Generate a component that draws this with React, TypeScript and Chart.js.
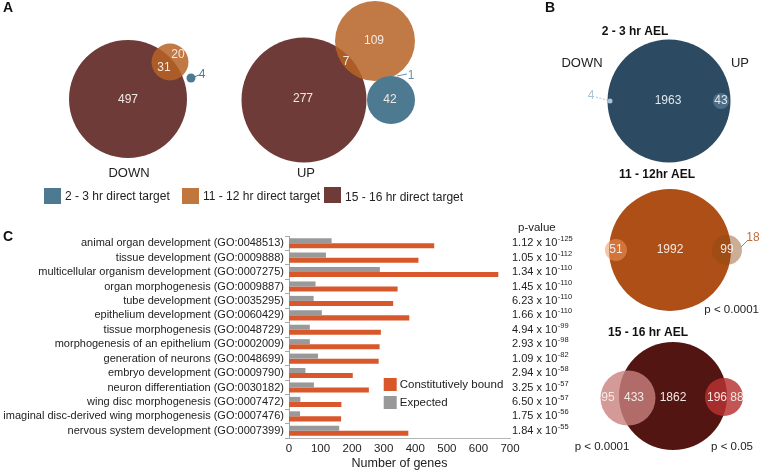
import React, { useEffect, useRef } from "react";
import { Chart, registerables } from "chart.js";

Chart.register(...registerables);

const FONT = '"Liberation Sans", Arial, Helvetica, sans-serif';
Chart.defaults.font.family = FONT;

// ---------- Panel C data ----------
const categories = [
  "animal organ development (GO:0048513)",
  "tissue development (GO:0009888)",
  "multicellular organism development (GO:0007275)",
  "organ morphogenesis (GO:0009887)",
  "tube development (GO:0035295)",
  "epithelium development (GO:0060429)",
  "tissue morphogenesis (GO:0048729)",
  "morphogenesis of an epithelium (GO:0002009)",
  "generation of neurons (GO:0048699)",
  "embryo development (GO:0009790)",
  "neuron differentiation (GO:0030182)",
  "wing disc morphogenesis (GO:0007472)",
  "imaginal disc-derived wing morphogenesis (GO:0007476)",
  "nervous system development (GO:0007399)",
];
const constitutivelyBound = [460, 410, 663, 344, 330, 381, 291, 287, 284, 202, 253, 166, 165, 378];
const expectedGenes = [135, 117, 288, 84, 78, 104, 66, 66, 92, 52, 79, 36, 35, 159];
const pMantissa = ["1.12", "1.05", "1.34", "1.45", "6.23", "1.66", "4.94", "2.93", "1.09", "2.94", "3.25", "6.50", "1.75", "1.84"];
const pExponent = ["-125", "-112", "-110", "-110", "-110", "-110", "-99", "-98", "-82", "-58", "-57", "-57", "-56", "-55"];
const xMin = 0;
const xMax = 700;
const xStep = 100;

// ---------- Panels A / B (Venn) data ----------
const vennCircleX = [128, 170, 191, 304, 375, 391, 669, 721, 610, 670, 616, 727, 673, 628, 724];
const vennCircleY = [99, 62, 78, 100, 41, 100, 101, 101, 101, 250, 250, 250, 396, 398, 397];
const vennCircleR = [59, 18.5, 4.5, 62.5, 40, 24, 61.5, 8, 2.5, 61, 11, 15, 54, 27.5, 19];
const vennCircleColor = [
  "#6e3b38", "rgba(182,99,36,0.85)", "#4e7a91",
  "#6e3b38", "rgba(182,99,36,0.85)", "#4e7a91",
  "#2c4a62", "rgba(140,175,205,0.35)", "#a9c3d6",
  "#ad4f17", "rgba(240,150,90,0.55)", "rgba(140,75,20,0.45)",
  "#521511", "rgba(201,129,126,0.8)", "rgba(183,51,51,0.83)",
];

const legendALabels = ["2 - 3 hr direct target", "11 - 12 hr direct target", "15 - 16 hr direct target"];
const legendAColors = ["#4e7a91", "#c0763c", "#6e3b39"];

type Ann = { t: string; x: number; y: number; c?: string; s?: number; b?: boolean; a?: CanvasTextAlign };
const W = "#f3e9e4";
const annotations: Ann[] = [
  { t: "A", x: 3, y: 8, s: 14, b: true, a: "left", c: "#111" },
  { t: "497", x: 128, y: 100, c: W },
  { t: "31", x: 164, y: 68, c: W },
  { t: "20", x: 178, y: 55, c: W },
  { t: "4", x: 202, y: 75, c: "#4e7a91" },
  { t: "DOWN", x: 129, y: 173, s: 13, c: "#222" },
  { t: "277", x: 303, y: 99, c: W },
  { t: "7", x: 346, y: 62, c: W },
  { t: "109", x: 374, y: 41, c: W },
  { t: "42", x: 390, y: 100, c: W },
  { t: "1", x: 411, y: 76, c: "#6e93ab" },
  { t: "UP", x: 306, y: 173, s: 13, c: "#222" },
  { t: "B", x: 545, y: 8, s: 14, b: true, a: "left", c: "#111" },
  { t: "2 - 3 hr AEL", x: 635, y: 32, b: true, c: "#111" },
  { t: "DOWN", x: 582, y: 63, s: 13, c: "#222" },
  { t: "UP", x: 740, y: 63, s: 13, c: "#222" },
  { t: "1963", x: 668, y: 101, c: "#dfe6ec" },
  { t: "43", x: 721, y: 101, c: "#dfe6ec" },
  { t: "4", x: 591, y: 96, c: "#a9c3d6" },
  { t: "11 - 12hr AEL", x: 657, y: 175, b: true, c: "#111" },
  { t: "51", x: 616, y: 250, c: W },
  { t: "1992", x: 670, y: 250, c: W },
  { t: "99", x: 727, y: 250, c: W },
  { t: "18", x: 753, y: 238, c: "#c0703a" },
  { t: "p < 0.0001", x: 759, y: 310, s: 11.5, a: "right", c: "#222" },
  { t: "15 - 16 hr AEL", x: 648, y: 333, b: true, c: "#111" },
  { t: "95", x: 608, y: 398, c: W },
  { t: "433", x: 634, y: 398, c: W },
  { t: "1862", x: 673, y: 398, c: W },
  { t: "196", x: 717, y: 398, c: W },
  { t: "88", x: 737, y: 398, c: W },
  { t: "p < 0.0001", x: 602, y: 447, s: 11.5, c: "#222" },
  { t: "p < 0.05", x: 732, y: 447, s: 11.5, c: "#222" },
  { t: "C", x: 3, y: 237, s: 14, b: true, a: "left", c: "#111" },
];
const leaderLines = [
  { x1: 194, y1: 77, x2: 199, y2: 75, c: "#4e7a91", dash: false },
  { x1: 397, y1: 76, x2: 407, y2: 74, c: "#6e93ab", dash: false },
  { x1: 596, y1: 97, x2: 607, y2: 100, c: "#a9c3d6", dash: true },
  { x1: 741, y1: 247, x2: 748, y2: 240, c: "#c0703a", dash: false },
];

const vennTextPlugin = {
  id: "vennText",
  afterDatasetsDraw(chart: any) {
    const { ctx } = chart;
    const sx = chart.scales.x;
    const sy = chart.scales.y;
    ctx.save();
    leaderLines.forEach((l) => {
      ctx.beginPath();
      ctx.strokeStyle = l.c;
      ctx.lineWidth = 1;
      ctx.setLineDash(l.dash ? [2, 1.5] : []);
      ctx.moveTo(sx.getPixelForValue(l.x1), sy.getPixelForValue(l.y1));
      ctx.lineTo(sx.getPixelForValue(l.x2), sy.getPixelForValue(l.y2));
      ctx.stroke();
    });
    ctx.setLineDash([]);
    ctx.textBaseline = "middle";
    annotations.forEach((a) => {
      ctx.font = `${a.b ? "bold " : ""}${a.s ?? 12}px ${FONT}`;
      ctx.fillStyle = a.c ?? "#222";
      ctx.textAlign = a.a ?? "center";
      ctx.fillText(a.t, sx.getPixelForValue(a.x), sy.getPixelForValue(a.y));
    });
    // legend for panel A
    const lx = [44, 182, 324];
    const ly = [188, 188, 187];
    legendALabels.forEach((lab, i) => {
      ctx.fillStyle = legendAColors[i];
      ctx.fillRect(lx[i], ly[i], 17, 16);
      ctx.fillStyle = "#222";
      ctx.textAlign = "left";
      ctx.font = `12px ${FONT}`;
      ctx.fillText(lab, lx[i] + 21, ly[i] + 8.5 + (i === 2 ? 2 : 0));
    });
    ctx.restore();
  },
};

const barExtrasPlugin = {
  id: "barExtras",
  afterDraw(chart: any) {
    const { ctx } = chart;
    const ys = chart.scales.y;
    const xs = chart.scales.x;
    ctx.save();
    ctx.textBaseline = "middle";
    ctx.textAlign = "left";
    ctx.fillStyle = "#222";
    const px = 512;
    ctx.font = `11.5px ${FONT}`;
    ctx.fillText("p-value", 518, ys.getPixelForValue(0) - 15);
    pMantissa.forEach((m, i) => {
      const y = ys.getPixelForValue(i);
      ctx.font = `11px ${FONT}`;
      const base = `${m} x 10`;
      ctx.fillText(base, px, y);
      const w = ctx.measureText(base).width;
      ctx.font = `7.5px ${FONT}`;
      ctx.fillText(pExponent[i], px + w + 0.5, y - 4);
    });
    // legend for panel C
    const lx = xs.getPixelForValue(300);
    const items = [
      { label: chart.data.datasets[1].label, color: chart.data.datasets[1].backgroundColor, y: 378 },
      { label: chart.data.datasets[0].label, color: chart.data.datasets[0].backgroundColor, y: 396 },
    ];
    items.forEach((it) => {
      ctx.fillStyle = it.color;
      ctx.fillRect(lx, it.y, 13, 13);
      ctx.fillStyle = "#222";
      ctx.font = `11.5px ${FONT}`;
      ctx.fillText(it.label, lx + 16, it.y + 7);
    });
    ctx.restore();
  },
};

export default function App() {
  const vennRef = useRef<HTMLCanvasElement>(null);
  const barRef = useRef<HTMLCanvasElement>(null);

  useEffect(() => {
    const venn = new Chart(vennRef.current as HTMLCanvasElement, {
      type: "bubble",
      data: {
        datasets: [
          {
            data: vennCircleX.map((x, i) => ({ x, y: vennCircleY[i], r: vennCircleR[i] })),
            backgroundColor: vennCircleColor,
            borderWidth: 0,
            hoverRadius: 0,
            clip: false,
          } as any,
        ],
      },
      options: {
        responsive: false,
        animation: false,
        events: [],
        layout: { padding: 0, autoPadding: false },
        scales: {
          x: { type: "linear", display: false, min: 0, max: 760 },
          y: { type: "linear", display: false, min: 0, max: 471, reverse: true },
        },
        plugins: { legend: { display: false }, tooltip: { enabled: false } },
      } as any,
      plugins: [vennTextPlugin],
    });

    const bar = new Chart(barRef.current as HTMLCanvasElement, {
      type: "bar",
      data: {
        labels: categories,
        datasets: [
          {
            label: "Expected",
            data: expectedGenes,
            backgroundColor: "#999999",
            categoryPercentage: 0.7,
            barPercentage: 1,
          },
          {
            label: "Constitutively bound",
            data: constitutivelyBound,
            backgroundColor: "#d9582b",
            categoryPercentage: 0.7,
            barPercentage: 1,
          },
        ],
      },
      options: {
        indexAxis: "y",
        responsive: false,
        animation: false,
        events: [],
        layout: { padding: { left: 0, top: 236, right: 250, bottom: 0 } },
        scales: {
          x: {
            min: xMin,
            max: xMax,
            ticks: { stepSize: xStep, color: "#222", font: { size: 11.5 }, padding: 4 },
            grid: { display: false, drawTicks: false },
            border: { display: true, color: "#b5b5b5" },
            title: {
              display: true,
              text: "Number of genes",
              color: "#222",
              font: { size: 12.5 },
              padding: { top: 0, bottom: 0 },
            },
            afterFit: (s: any) => {
              s.height = 33;
            },
          },
          y: {
            ticks: { color: "#222", font: { size: 11 }, padding: 1, autoSkip: false },
            grid: { display: true, drawOnChartArea: false, tickLength: 4, color: "#a8a8a8" },
            border: { display: true, color: "#a8a8a8" },
            afterFit: (s: any) => {
              s.width = 289;
            },
          },
        },
        plugins: { legend: { display: false }, tooltip: { enabled: false } },
      },
      plugins: [barExtrasPlugin],
    });

    return () => {
      venn.destroy();
      bar.destroy();
    };
  }, []);

  return (
    <div style={{ position: "absolute", left: 0, top: 0, width: 760, height: 471, background: "#fff" }}>
      <canvas ref={vennRef} width={760} height={471} style={{ position: "absolute", left: 0, top: 0 }} />
      <canvas ref={barRef} width={760} height={471} style={{ position: "absolute", left: 0, top: 0 }} />
    </div>
  );
}
